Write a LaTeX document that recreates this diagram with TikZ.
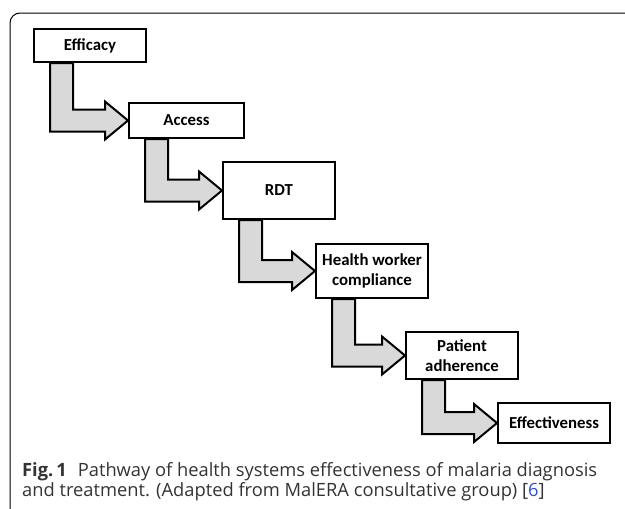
\documentclass[tikz,border=0pt]{standalone}
\usepackage{fontspec}
\usetikzlibrary{calc,backgrounds}
\newfontfamily\boxfont{Carlito}
\newfontfamily\capfont{Open Sans}
\definecolor{arrgray}{HTML}{D9D9D9}
\definecolor{captxt}{HTML}{333333}
\definecolor{refblue}{HTML}{2F4FD8}
\tikzset{
  flowbox/.style={draw,rectangle,line width=2pt,fill=white,inner sep=0pt,align=center,
    font=\boxfont\bfseries\fontsize{16.8}{19.5}\selectfont},
  flowarr/.style={draw,fill=arrgray,line width=2pt,line join=miter},
  caplbl/.style={anchor=base west,inner sep=0pt,text=captxt,font=\capfont\fontsize{18.3}{20}\selectfont}
}
% bent block arrow from the bottom of #1 to the left side of #2
\newcommand{\bentarr}[2]{%
  \coordinate (shaft) at ($(#1.south west)+(17,0)$);
  \draw[flowarr] (shaft) -- ++(23,0) |- ($(#2.west)+(-23,-11)$) -- ++(0,-8)
    -- (#2.west) -- ++(-23,19) -- ++(0,-8) -| (shaft) -- cycle;
}
\begin{document}
\begin{tikzpicture}[x=1pt,y=-1pt]
  \useasboundingbox (0,0) rectangle (625,509);
  \draw[black,line width=1pt,rounded corners=10pt] (626,13) -| (10,510);

  \node[flowbox, minimum width=112pt, minimum height=33pt] (efficacy) at (90,45.5) {Efficacy};
  \node[flowbox, minimum width=115pt, minimum height=35pt] (access) at (186.5,120.5) {Access};
  \node[flowbox, minimum width=112pt, minimum height=57pt] (rdt) at (279,190.5) {RDT};
  \node[flowbox, minimum width=112pt, minimum height=54pt] (hwc) at (372,271) {Health worker\\compliance};
  \node[flowbox, minimum width=112pt, minimum height=47pt] (patient) at (462,355.5) {Patient\\adherence};
  \node[flowbox, minimum width=112pt, minimum height=40pt] (effect) at (554,423) {Effectiveness};

  \begin{scope}[on background layer]
    \bentarr{efficacy}{access}
    \bentarr{access}{rdt}
    \bentarr{rdt}{hwc}
    \bentarr{hwc}{patient}
    \bentarr{patient}{effect}
  \end{scope}

  \node[caplbl] (cap1) at (22,476) {\textbf{Fig.\,1}\hspace{0.6em}Pathway of health systems effectiveness of malaria diagnosis};
  \node[caplbl] (cap2) at (22,496) {and treatment. (Adapted from MalERA consultative group) [\textcolor{refblue}{6}]};
\end{tikzpicture}
\end{document}
